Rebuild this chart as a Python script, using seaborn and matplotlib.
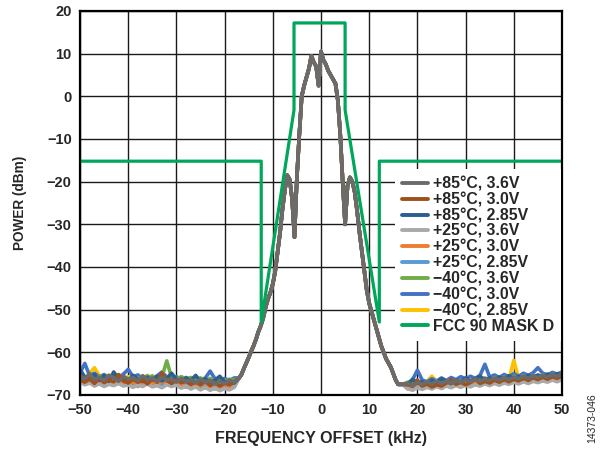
import matplotlib
matplotlib.use('Agg')
import matplotlib.pyplot as plt
import numpy as np
import pandas as pd
import seaborn as sns

# Frequency grid (kHz): coarse in the noise floor, finer across the channel
freq_left = np.arange(-50, -17)          # -50 .. -18
freq_core = np.arange(-17, 17.5, 0.5)    # -17 .. 17
freq_right = np.arange(18, 51)           # 18 .. 50

# Shared channel shape (all traces overlap here)
core = [-66.0, -65.2, -63.8, -62.5, -61.2, -59.8, -58.5, -57.0, -55.2, -53.8,
        -52.0, -49.5, -47.5, -46.0, -44.0, -41.0, -36.5, -32.0, -26.5, -22.0,
        -18.5, -19.5, -24.0, -33.0, -19.0, -9.0, 0.0, 2.5, 4.5, 6.5,
        9.5, 8.0, 7.0, 2.5, 10.5, 8.5, 7.5, 6.0, 5.0, 4.0,
        3.0, -1.0, -9.0, -20.0, -30.0, -21.0, -19.0, -20.0, -22.5, -27.0,
        -32.0, -36.5, -41.0, -45.5, -48.5, -50.5, -52.5, -54.5, -56.5, -58.5,
        -60.0, -61.5, -62.5, -63.5, -65.0, -66.5, -67.5, -67.5, -67.5]

# Noise floor, left (-50..-18) and right (18..50), per trace
p85_36_l = [-65.5, -66.2, -65.0, -66.4, -65.8, -66.6, -65.4, -66.0, -66.8, -65.6,
            -66.3, -65.9, -66.7, -65.5, -66.4, -66.0, -66.9, -65.8, -66.5, -66.2,
            -67.0, -66.1, -66.8, -66.4, -67.2, -66.3, -67.0, -66.6, -67.4, -66.8,
            -67.3, -66.5, -67.0]
p85_36_r = [-67.2, -67.8, -67.1, -67.5, -66.9, -67.4, -66.8, -67.3, -66.7, -67.2,
            -66.6, -67.0, -66.4, -66.9, -66.3, -66.8, -66.2, -66.6, -66.0, -66.5,
            -65.9, -66.4, -65.8, -66.2, -65.6, -66.1, -65.5, -65.9, -65.4, -65.8,
            -65.2, -65.6, -65.1]
p85_30_l = [-66.5, -67.0, -66.2, -67.3, -66.0, -67.1, -66.4, -66.9, -65.2, -66.7,
            -67.2, -66.3, -67.0, -66.5, -67.4, -66.1, -67.0, -64.8, -66.6, -67.3,
            -66.4, -67.1, -66.8, -67.5, -66.9, -67.6, -66.7, -67.8, -67.0, -67.9,
            -67.2, -67.6, -66.9]
p85_30_r = [-67.5, -68.0, -66.5, -67.9, -67.4, -68.1, -67.6, -67.9, -67.2, -66.4,
            -67.5, -67.0, -67.6, -67.1, -66.2, -67.3, -66.8, -67.2, -66.5, -67.0,
            -66.4, -66.9, -66.3, -66.7, -66.0, -66.6, -65.9, -66.4, -65.8, -66.3,
            -65.7, -66.1, -65.5]
p85_285_l = [-64.0, -65.8, -66.4, -65.2, -66.6, -65.5, -66.8, -64.6, -66.2, -65.7,
             -66.9, -65.4, -66.3, -66.8, -65.9, -66.5, -65.6, -66.7, -66.1, -64.9,
             -66.4, -66.9, -66.0, -66.6, -65.4, -66.8, -66.2, -67.1, -66.5, -65.6,
             -67.0, -66.7, -67.2]
p85_285_r = [-67.6, -66.3, -67.2, -66.9, -67.5, -66.6, -67.1, -66.2, -66.8, -67.3,
             -66.5, -66.9, -66.0, -66.7, -66.2, -65.6, -66.5, -66.0, -66.4, -65.8,
             -66.3, -65.5, -66.1, -65.7, -66.2, -65.4, -65.9, -65.3, -65.8, -65.1,
             -65.6, -65.0, -65.4]
p25_36_l = [-67.0, -67.6, -67.2, -67.9, -67.4, -68.0, -67.5, -67.8, -67.3, -67.9,
            -67.6, -68.2, -67.7, -68.0, -67.4, -68.1, -67.8, -68.3, -67.6, -68.0,
            -67.7, -68.4, -67.9, -68.6, -68.1, -68.8, -68.2, -68.9, -68.4, -69.0,
            -68.5, -68.8, -68.2]
p25_36_r = [-68.5, -68.9, -68.3, -68.7, -68.2, -68.6, -68.0, -68.5, -67.9, -68.3,
            -67.8, -68.2, -67.7, -68.1, -67.6, -67.9, -67.4, -67.8, -67.3, -67.7,
            -67.2, -67.5, -67.0, -67.4, -66.9, -67.3, -66.8, -67.1, -66.7, -67.0,
            -66.5, -66.9, -66.4]
p25_30_l = [-66.8, -67.4, -66.6, -67.2, -66.9, -67.5, -66.7, -67.3, -66.5, -67.1,
            -67.6, -66.8, -68.0, -66.9, -67.4, -67.0, -67.7, -66.6, -67.3, -67.8,
            -67.1, -67.6, -68.2, -67.4, -68.0, -67.5, -68.4, -67.8, -68.6, -68.0,
            -68.3, -67.7, -68.1]
p25_30_r = [-68.6, -67.8, -68.3, -67.6, -68.1, -67.5, -67.9, -67.3, -67.8, -67.2,
            -67.6, -67.0, -67.5, -66.9, -67.3, -66.8, -67.2, -66.6, -67.0, -66.5,
            -66.9, -66.3, -66.8, -66.2, -66.6, -66.0, -66.5, -65.9, -66.3, -65.8,
            -66.2, -65.6, -65.9]
p25_285_l = [-66.0, -66.8, -66.3, -67.0, -66.5, -67.2, -66.6, -67.3, -66.7, -67.1,
             -66.8, -67.4, -66.9, -67.5, -67.0, -67.6, -67.1, -67.7, -67.2, -67.8,
             -67.3, -67.9, -67.4, -68.0, -67.5, -68.1, -67.6, -68.2, -67.7, -68.3,
             -67.8, -68.0, -67.5]
p25_285_r = [-67.7, -68.1, -67.5, -67.9, -67.3, -67.8, -67.2, -67.6, -67.0, -67.5,
             -66.9, -67.3, -66.8, -67.2, -66.6, -67.0, -66.5, -66.9, -66.4, -66.8,
             -66.2, -66.6, -66.1, -66.5, -65.9, -66.4, -65.8, -66.2, -65.7, -66.0,
             -65.5, -65.9, -65.4]
m40_36_l = [-65.2, -65.9, -65.4, -66.1, -65.6, -66.2, -65.5, -66.0, -65.3, -65.9,
            -66.3, -65.7, -66.1, -65.6, -66.0, -65.5, -66.2, -65.8, -62.0, -65.9,
            -66.4, -65.7, -66.2, -65.9, -66.5, -66.0, -66.6, -66.1, -66.7, -66.2,
            -66.8, -66.3, -66.5]
m40_36_r = [-67.0, -67.4, -66.8, -67.3, -68.0, -67.1, -66.7, -67.2, -66.6, -67.0,
            -66.5, -66.9, -66.3, -66.8, -66.2, -66.6, -66.0, -66.5, -65.9, -66.3,
            -65.8, -66.2, -65.6, -66.1, -65.5, -65.9, -65.4, -65.8, -65.3, -65.7,
            -65.2, -65.5, -65.0]
m40_30_l = [-64.8, -62.6, -65.5, -64.9, -65.8, -65.2, -66.0, -65.4, -65.9, -65.1,
            -64.0, -65.7, -65.3, -66.1, -65.6, -66.2, -65.5, -64.6, -65.8, -66.3,
            -65.7, -66.4, -65.9, -66.6, -65.8, -66.5, -66.0, -64.4, -66.2, -66.7,
            -66.1, -66.6, -66.0]
m40_30_r = [-67.2, -66.4, -64.2, -66.5, -66.9, -66.2, -66.7, -66.0, -66.6, -65.9,
            -66.4, -65.7, -66.2, -65.6, -66.1, -65.4, -62.8, -65.8, -65.3, -65.9,
            -65.2, -65.7, -65.0, -65.6, -64.9, -65.4, -64.8, -63.6, -64.9, -65.3,
            -64.7, -65.1, -64.6]
m40_285_l = [-65.6, -66.2, -64.9, -63.6, -65.4, -66.0, -65.3, -65.9, -65.5, -66.1,
             -65.7, -66.3, -65.6, -66.0, -65.4, -66.2, -65.8, -66.4, -65.9, -66.5,
             -66.0, -66.6, -66.1, -66.7, -66.2, -66.8, -66.3, -66.9, -66.4, -67.0,
             -66.5, -66.8, -66.2]
m40_285_r = [-67.1, -67.5, -66.9, -67.4, -66.8, -65.6, -66.9, -67.2, -66.6, -67.1,
             -66.5, -66.9, -66.3, -66.8, -66.2, -66.7, -66.1, -66.5, -66.0, -66.4,
             -65.9, -66.3, -61.9, -66.1, -65.6, -66.0, -65.5, -65.9, -65.4, -65.8,
             -65.3, -65.7, -65.2]

labels = ['+85°C, 3.6V', '+85°C, 3.0V', '+85°C, 2.85V',
          '+25°C, 3.6V', '+25°C, 3.0V', '+25°C, 2.85V',
          '\u221240°C, 3.6V', '\u221240°C, 3.0V', '\u221240°C, 2.85V']
colors = ['#6b6b6b', '#a0501c', '#2a5f8f', '#a9a9a9', '#ed7d31',
          '#5b9bd5', '#70ad47', '#4472c4', '#ffc000']
floors = [(p85_36_l, p85_36_r), (p85_30_l, p85_30_r), (p85_285_l, p85_285_r),
          (p25_36_l, p25_36_r), (p25_30_l, p25_30_r), (p25_285_l, p25_285_r),
          (m40_36_l, m40_36_r), (m40_30_l, m40_30_r), (m40_285_l, m40_285_r)]

# FCC 90 mask D outline
mask_f = [-50, -12.4, -12.4, -5.6, -5.6, 5.0, 5.0, 12.1, 12.1, 50]
mask_db = [-15.2, -15.2, -52.9, -3.2, 17.2, 17.2, -3.2, -52.9, -15.2, -15.2]
mask_label = 'FCC 90 MASK D'
mask_color = '#00a65a'

sns.set_style('white')
plt.rcParams['font.family'] = ['Liberation Sans', 'DejaVu Sans']
plt.rcParams['font.weight'] = 'bold'

freq = np.concatenate([freq_left, freq_core, freq_right])
frames = []
for lab, (fl, fr) in zip(labels, floors):
    frames.append(pd.DataFrame({'freq': freq, 'power': fl + core + fr, 'series': lab}))
df = pd.concat(frames, ignore_index=True)

fig, ax = plt.subplots(figsize=(6, 4.5), dpi=100)
fig.subplots_adjust(left=80/600, right=562/600, top=1-11/450, bottom=1-395/450)

# draw the first legend entry last so it sits on top
for lab, col in reversed(list(zip(labels, colors))):
    sns.lineplot(data=df[df['series'] == lab], x='freq', y='power', color=col,
                 linewidth=2.6, sort=False, estimator=None, ax=ax, label=lab)
sns.lineplot(x=mask_f, y=mask_db, color=mask_color, linewidth=2.3, sort=False,
             estimator=None, ax=ax, label=mask_label)

ax.set_xlim(-50, 50)
ax.set_ylim(-70, 20)
ax.set_xticks(range(-50, 51, 10))
ax.set_yticks(range(-70, 21, 10))
ax.grid(True, color='#1a1a1a', linewidth=1.0)
ax.set_axisbelow(True)
ax.tick_params(length=0, pad=6, labelsize=10.5)
for s in ax.spines.values():
    s.set_visible(True)
    s.set_color('black')
    s.set_linewidth(1.6)

ax.set_xlabel('FREQUENCY OFFSET (kHz)', fontsize=11.5, fontweight='bold', labelpad=10)
ax.set_ylabel('POWER (dBm)', fontsize=9.8, fontweight='bold', labelpad=14)

handles, labs = ax.get_legend_handles_labels()
order = [labs.index(l) for l in labels + [mask_label]]
leg = ax.legend([handles[i] for i in order], [labs[i] for i in order],
                loc='upper left', bbox_to_anchor=(0.654, 0.588), fontsize=11.4,
                frameon=True, fancybox=False, edgecolor='none', facecolor='white',
                framealpha=1, handlelength=1.6, handletextpad=0.35,
                labelspacing=0.05, borderpad=0.45, borderaxespad=0)
for line in leg.get_lines():
    line.set_linewidth(2.8)

fig.text(0.987, 0.07, '14373-046', rotation=90, fontsize=7.5, fontweight='normal',
         ha='center', va='center')

fig.savefig('out.png', dpi=100)
